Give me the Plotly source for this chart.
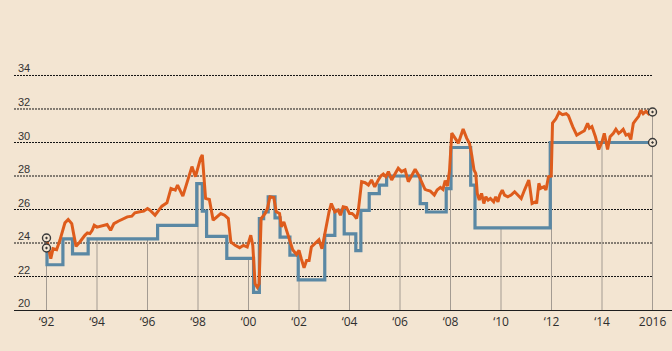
import plotly.graph_objects as go

# ---------------- data ----------------
orange_years = [
    1992.0, 1992.17, 1992.26, 1992.4, 1992.53, 1992.73, 1992.86, 1993.0, 1993.08, 1993.17,
    1993.32, 1993.43, 1993.52, 1993.62, 1993.72, 1993.81, 1993.89, 1994.0, 1994.13, 1994.26,
    1994.4, 1994.54, 1994.67, 1994.84, 1995.05, 1995.2, 1995.38, 1995.5, 1995.7, 1995.85,
    1996.0, 1996.1, 1996.3, 1996.44, 1996.57, 1996.77, 1996.93, 1997.1, 1997.19, 1997.4,
    1997.58, 1997.76, 1997.9, 1998.1, 1998.17, 1998.3, 1998.45, 1998.6, 1998.75, 1998.9,
    1999.05, 1999.2, 1999.3, 1999.47, 1999.65, 1999.8, 1999.95, 2000.09, 2000.17, 2000.26,
    2000.35, 2000.42, 2000.5, 2000.66, 2000.75, 2000.85, 2001.0, 2001.1, 2001.23, 2001.3,
    2001.4, 2001.5, 2001.6, 2001.75, 2001.9, 2002.0, 2002.09, 2002.2, 2002.3, 2002.4,
    2002.49, 2002.62, 2002.79, 2002.91, 2003.05, 2003.19, 2003.28, 2003.42, 2003.55, 2003.64,
    2003.75, 2003.88, 2004.0, 2004.1, 2004.18, 2004.28, 2004.35, 2004.48, 2004.62, 2004.75,
    2004.87, 2005.0, 2005.14, 2005.24, 2005.34, 2005.44, 2005.54, 2005.67, 2005.8, 2005.93,
    2006.06, 2006.2, 2006.33, 2006.46, 2006.6, 2006.73, 2006.86, 2006.99, 2007.07, 2007.2,
    2007.36, 2007.47, 2007.6, 2007.7, 2007.79, 2007.88, 2007.96, 2008.05, 2008.18, 2008.31,
    2008.4, 2008.5, 2008.64, 2008.75, 2008.84, 2008.93, 2009.0, 2009.06, 2009.14, 2009.23,
    2009.32, 2009.4, 2009.49, 2009.58, 2009.71, 2009.79, 2009.88, 2009.95, 2010.05, 2010.14,
    2010.27, 2010.4, 2010.54, 2010.67, 2010.8, 2010.93, 2011.02, 2011.1, 2011.15, 2011.23,
    2011.36, 2011.41, 2011.5, 2011.57, 2011.7, 2011.78, 2011.88, 2011.99, 2012.04, 2012.17,
    2012.3, 2012.43, 2012.58, 2012.67, 2012.84, 2013.0, 2013.16, 2013.3, 2013.43, 2013.5,
    2013.6, 2013.74, 2013.87, 2014.0, 2014.09, 2014.22, 2014.32, 2014.45, 2014.55, 2014.66,
    2014.75, 2014.84, 2014.95, 2015.05, 2015.14, 2015.24, 2015.34, 2015.45, 2015.54, 2015.63,
    2015.74, 2015.84, 2015.93, 2016.0,
]
orange_values = [
    24.3, 23.06, 23.66, 23.6, 24.16, 25.2, 25.4, 25.16, 24.5, 23.8,
    24.06, 24.32, 24.46, 24.6, 24.56, 24.76, 25.06, 24.95, 25.0, 25.06,
    25.1, 24.76, 25.16, 25.3, 25.46, 25.56, 25.6, 25.8, 25.86, 25.9,
    26.06, 25.96, 25.66, 25.96, 26.2, 26.4, 27.26, 27.16, 27.46, 26.8,
    27.76, 28.56, 27.96, 29.06, 29.26, 26.66, 26.6, 25.36, 25.56, 25.76,
    25.66, 25.46, 24.06, 23.86, 23.72, 23.86, 23.76, 24.46, 23.86, 21.56,
    21.36, 21.56, 25.46, 25.76, 26.06, 26.76, 26.72, 25.86, 25.76, 24.96,
    25.26, 24.76, 24.26, 23.6, 23.32, 23.56, 23.06, 22.52, 22.96, 22.96,
    23.76, 23.96, 24.2, 23.66, 24.86, 25.86, 26.36, 25.86, 25.96, 25.66,
    26.16, 26.12, 25.76, 25.76, 25.66, 25.46, 25.96, 27.66, 27.6, 27.46,
    27.76, 27.36, 27.76, 28.0, 28.12, 27.96, 28.26, 27.76, 28.12, 28.46,
    28.26, 28.36, 27.66, 28.06, 28.4, 28.06, 27.6, 27.2, 27.16, 27.1,
    26.86, 27.16, 27.32, 27.2, 27.72, 27.4, 28.3, 30.56, 30.26, 29.96,
    30.36, 30.8, 30.26, 29.96, 29.26, 28.36, 28.16, 26.96, 26.56, 26.96,
    26.36, 26.76, 26.56, 26.66, 26.46, 26.76, 26.46, 26.86, 27.16, 26.86,
    26.76, 26.86, 27.06, 26.86, 26.66, 27.16, 27.46, 27.76, 27.26, 26.36,
    26.46, 26.36, 27.56, 27.26, 27.36, 27.16, 27.96, 28.0, 31.16, 31.4,
    31.8, 31.66, 31.72, 31.6, 30.95, 30.44, 30.58, 30.7, 31.15, 30.85,
    30.95, 30.34, 29.58, 30.04, 30.55, 29.58, 30.34, 30.55, 30.79, 30.55,
    30.65, 30.79, 30.44, 30.5, 30.18, 31.15, 31.35, 31.56, 31.92, 31.72,
    31.86, 31.72, 31.92, 31.82,
]

blue_years = [
    1992.0, 1992.02, 1992.65, 1993.03, 1993.65, 1996.4, 1997.95, 1998.17, 1998.34, 1999.14,
    2000.2, 2000.43, 2000.6, 2000.78, 2001.05, 2001.25, 2001.64, 2001.97, 2003.02, 2003.42,
    2003.79, 2004.25, 2004.45, 2004.78, 2005.18, 2005.47, 2006.8, 2007.05, 2007.83, 2008.02,
    2008.8, 2008.97, 2011.95, 2016.0,
]
blue_values = [
    23.7, 22.7, 24.25, 23.35, 24.25, 25.05, 27.55, 25.9, 24.4, 23.08,
    21.05, 25.45, 25.85, 26.75, 25.5, 24.35, 23.28, 21.8, 24.45, 25.95,
    24.55, 23.55, 25.95, 26.95, 27.45, 28.0, 26.35, 25.85, 27.25, 29.7,
    27.45, 24.9, 30.0, 30.0,
]

tick_years = [1992, 1994, 1996, 1998, 2000, 2002, 2004, 2006, 2008, 2010, 2012, 2014, 2016]
tick_labels = ["\u201892", "\u201894", "\u201896", "\u201898", "\u201800", "\u201802", "\u201804",
               "\u201806", "\u201808", "\u201810", "\u201812", "\u201814", "2016"]
grid_values = [22, 24, 26, 28, 30, 32, 34]
y_labels = ["22", "24", "26", "28", "30", "32", "34"]

# ---------------- style ----------------
BG = "#f3e5d2"
ORANGE = "#de5c1c"
BLUE = "#5a88a4"
X_RANGE = [1990.713, 2016.772]
Y_RANGE = [20, 38.507]


def blue_at(year):
    val = blue_values[0]
    for yr, v in zip(blue_years, blue_values):
        if yr <= year + 1e-9:
            val = v
    return val


fig = go.Figure()

fig.add_trace(go.Scatter(x=blue_years, y=blue_values, mode="lines",
                         line=dict(color=BLUE, width=3.2, shape="hv"),
                         hoverinfo="skip", showlegend=False))
fig.add_trace(go.Scatter(x=orange_years, y=orange_values, mode="lines",
                         line=dict(color=ORANGE, width=3, shape="linear"),
                         hoverinfo="skip", showlegend=False))

# end-point markers
mx = [orange_years[0], blue_years[0], orange_years[-1], blue_years[-1]]
my = [orange_values[0], blue_values[0], orange_values[-1], blue_values[-1]]
fig.add_trace(go.Scatter(x=mx, y=my, mode="markers",
                         marker=dict(symbol="circle", size=8, color=BG,
                                     line=dict(width=0)),
                         hoverinfo="skip", showlegend=False))
fig.add_trace(go.Scatter(x=mx, y=my, mode="markers",
                         marker=dict(symbol="circle-open-dot", size=8, color="#3a3a3a",
                                     line=dict(width=1.4)),
                         hoverinfo="skip", showlegend=False))

shapes = []
# vertical drop lines
for yr in tick_years:
    if yr == tick_years[0]:
        top = max(orange_values[0], blue_values[0])
    elif yr == tick_years[-1]:
        top = max(orange_values[-1], blue_values[-1])
    else:
        top = blue_at(yr)
    shapes.append(dict(type="line", xref="x", yref="y", x0=yr, x1=yr, y0=Y_RANGE[0], y1=top,
                       line=dict(color="#a39b92", width=1), layer="below"))
# dotted horizontal gridlines, ending at the last tick (2016)
x1_paper = (tick_years[-1] - X_RANGE[0]) / (X_RANGE[1] - X_RANGE[0])
for gv in grid_values:
    shapes.append(dict(type="line", xref="paper", yref="y", x0=0, x1=x1_paper, y0=gv, y1=gv,
                       line=dict(color="#141414", width=1, dash="2px,1px"), layer="below"))

annotations = []
for gv, lab in zip([20] + grid_values, ["20"] + y_labels):
    annotations.append(dict(xref="paper", yref="y", x=0, y=gv, text=lab, showarrow=False,
                            xanchor="left", yanchor="bottom", xshift=2, yshift=-1,
                            font=dict(family="Liberation Sans", size=11, color="#333333")))

fig.update_layout(
    width=672, height=351,
    margin=dict(l=14, r=0, t=0, b=41, pad=0),
    paper_bgcolor=BG, plot_bgcolor=BG,
    shapes=shapes, annotations=annotations,
    xaxis=dict(range=X_RANGE, showgrid=False, zeroline=False, showline=True,
               linecolor="#1e1e1e", linewidth=1.3, tickmode="array",
               tickvals=tick_years, ticktext=tick_labels, ticks="",
               tickfont=dict(family="Open Sans", size=12, color="#2e2e2e"),
               fixedrange=True),
    yaxis=dict(range=Y_RANGE, showgrid=False, zeroline=False, showline=False,
               showticklabels=False, fixedrange=True),
)

fig.write_html("out.html")
